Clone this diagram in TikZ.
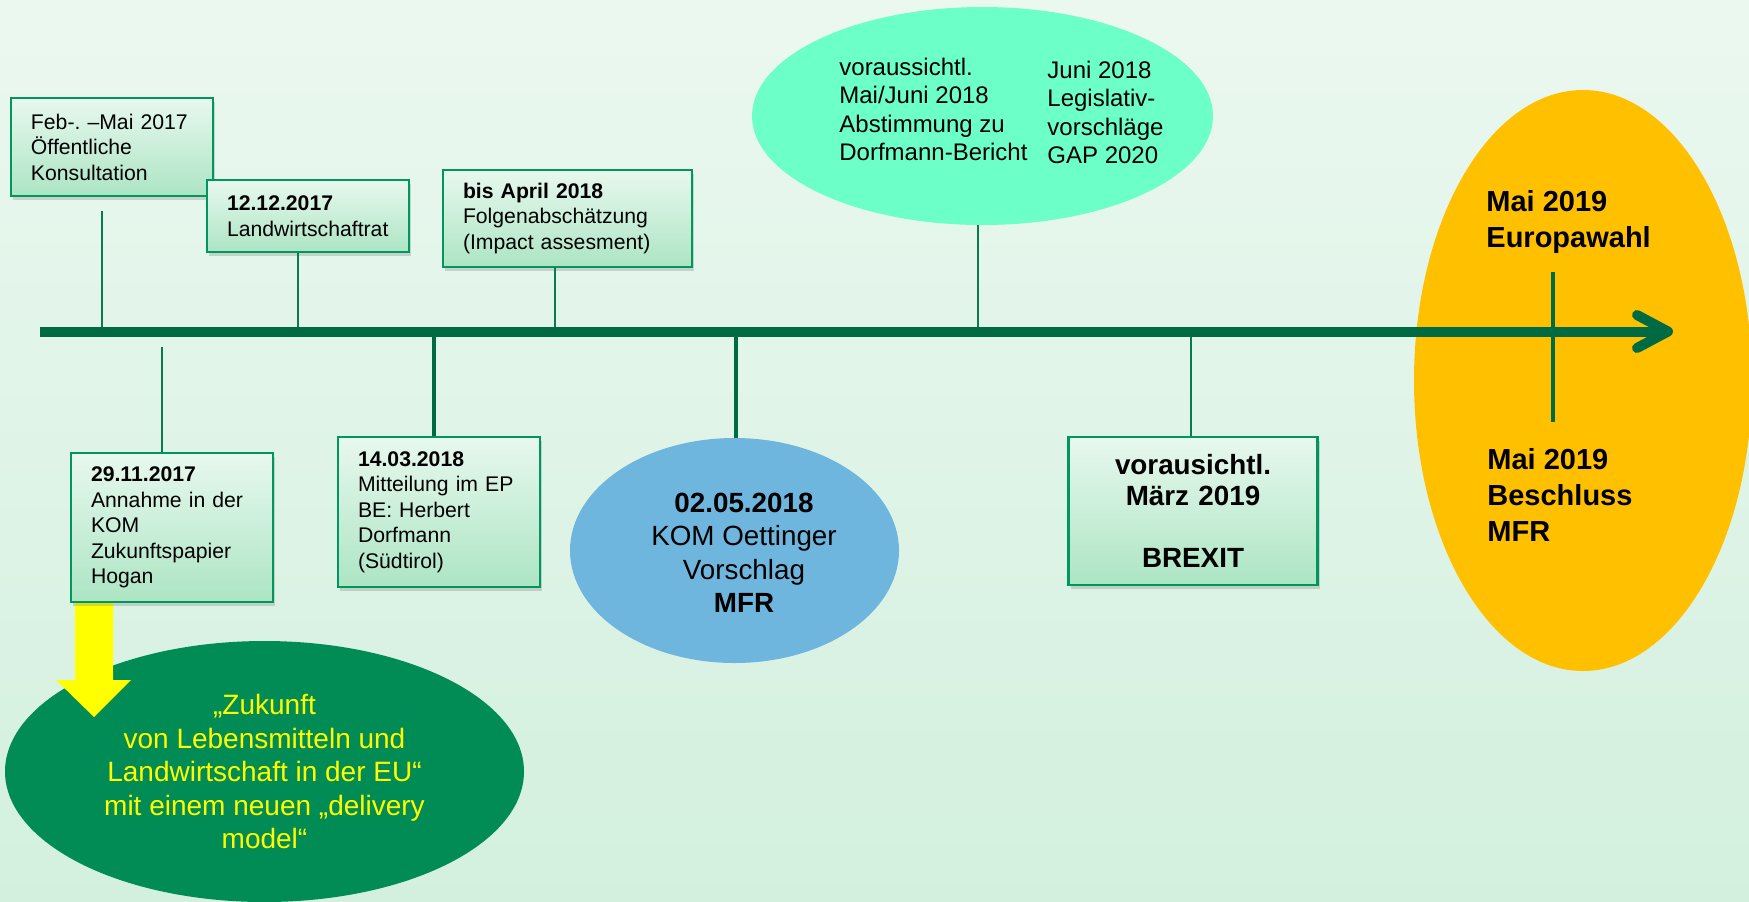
\documentclass[tikz,border=0pt]{standalone}
\usepackage{fontspec}
\setmainfont{Liberation Sans}
\usetikzlibrary{shapes.geometric,shadows}
\frenchspacing

\definecolor{axisgreen}{RGB}{0,106,66}
\definecolor{tickgreen}{RGB}{12,122,80}
\definecolor{boxline}{RGB}{0,150,95}
\definecolor{boxtop}{RGB}{232,248,238}
\definecolor{boxbot}{RGB}{172,229,196}
\definecolor{bgtop}{RGB}{235,248,240}
\definecolor{bgbot}{RGB}{211,240,222}
\definecolor{gapcyan}{RGB}{108,255,200}
\definecolor{mfrblue}{RGB}{110,182,222}
\definecolor{wahlorange}{RGB}{255,192,0}
\definecolor{zukunftgreen}{RGB}{0,140,84}
\definecolor{arrowyellow}{RGB}{255,255,0}

\begin{document}
\begin{tikzpicture}[
  x=0.5pt,
  y=-0.5pt,
  event/.style={draw=boxline, line width=1.25pt, top color=boxtop, bottom color=boxbot, align=left, inner xsep=10pt, inner ysep=0pt, text width=81pt, font=\fontsize{10.6}{12.75}\selectfont, drop shadow={shadow xshift=1pt, shadow yshift=-2pt, opacity=0.3}},
  eventwide/.style={event, text width=104.5pt},
  blob/.style={ellipse, inner sep=0pt, align=center},
  tick/.style={draw=tickgreen, line width=1pt},
  tickbold/.style={draw=axisgreen, line width=2.3pt},
  axisline/.style={draw=axisgreen, line width=5pt}
]
\useasboundingbox (0,0) rectangle (1749,901);
\shade[top color=bgtop, bottom color=bgbot] (0,0) rectangle (1749,901);

\node[blob, fill=wahlorange, minimum width=169pt, minimum height=290.5pt] (wahl) at (1583,380.5) {};
\node[font=\fontsize{14.5}{18}\selectfont\bfseries, align=left, anchor=west, inner sep=0pt] (wahlA) at (1486,221.5) {Mai 2019\\Europawahl};
\node[font=\fontsize{14.5}{18}\selectfont\bfseries, align=left, anchor=west, inner sep=0pt] (wahlB) at (1487,495) {Mai 2019\\Beschluss\\MFR};

\node[blob, fill=gapcyan, minimum width=230.5pt, minimum height=109pt] (gap) at (982.5,116) {};
\node[font=\fontsize{12}{14.25}\selectfont, align=left, anchor=west, inner sep=0pt] (gapA) at (839,109.5) {voraussichtl.\\Mai/Juni 2018\\Abstimmung zu\\Dorfmann-Bericht};
\node[font=\fontsize{12}{14.25}\selectfont, align=left, anchor=west, inner sep=0pt] (gapB) at (1047,112.5) {Juni 2018\\Legislativ-\\vorschläge\\GAP 2020};

\node[blob, fill=zukunftgreen, text=arrowyellow, minimum width=259.5pt, minimum height=130.5pt, font=\fontsize{14}{16.75}\selectfont] (zukunft) at (264.5,771.5) {„Zukunft\\von Lebensmitteln und\\Landwirtschaft in der EU“\\mit einem neuen „delivery\\model“};
\fill[arrowyellow] (75,603) -- (113,603) -- (113,680) -- (131,680) -- (94,717) -- (56,680) -- (75,680) -- cycle;

\node[event, minimum height=49pt] (feb) at (112,147) {Feb-. –Mai 2017\\Öffentliche\\Konsultation};
\node[event, minimum height=36pt] (rat) at (308,216) {\textbf{12.12.2017}\\Landwirtschaftrat};
\node[eventwide, minimum height=48.5pt] (folgen) at (567.5,218.5) {\textbf{bis April 2018}\\Folgenabschätzung\\(Impact assesment)};
\node[event, minimum height=74.5pt] (hogan) at (172,527.5) {\textbf{29.11.2017}\\Annahme in der\\KOM\\Zukunftspapier\\Hogan};
\node[event, minimum height=75pt] (dorf) at (439,512) {\textbf{14.03.2018}\\Mitteilung im EP\\BE: Herbert\\Dorfmann\\(Südtirol)};
\node[eventwide, align=center, minimum height=74pt, font=\fontsize{13.9}{15.5}\selectfont\bfseries] (brexit) at (1193,511) {vorausichtl.\\März 2019\\[15.5pt]BREXIT};
\node[blob, fill=mfrblue, minimum width=164.5pt, minimum height=112.5pt] (mfr) at (734.5,550.5) {};
\node[align=center, inner sep=0pt, font=\fontsize{13.9}{16.75}\selectfont] (mfrtext) at (744,553) {\textbf{02.05.2018}\\KOM Oettinger\\Vorschlag\\\textbf{MFR}};

\coordinate (axl) at (40,331.5);
\coordinate (axr) at (1668,331.5);
\coordinate (ax1) at (101.5,331.5);
\coordinate (ax2) at (298,331.5);
\coordinate (ax3) at (554.5,331.5);
\coordinate (ax4) at (162,331.5);
\coordinate (ax5) at (434,331.5);
\coordinate (ax6) at (736,331.5);
\coordinate (ax7) at (978,331.5);
\coordinate (ax8) at (1190.5,331.5);
\coordinate (e1) at (101.5,211);
\coordinate (e4) at (162,347);
\coordinate (e9a) at (1553,272);
\coordinate (e9b) at (1553,422);

\draw[tick] (e1) -- (ax1);
\draw[tick] (rat.south -| ax2) -- (ax2);
\draw[tick] (folgen.south -| ax3) -- (ax3);
\draw[tick] (e4) -- (hogan.north -| ax4);
\draw[tickbold] (ax5) -- (dorf.north -| ax5);
\draw[tickbold] (ax6) -- (mfr.north -| ax6);
\draw[tick] (gap.south -| ax7) -- (ax7);
\draw[tick] (ax8) -- (brexit.north -| ax8);
\draw[tickbold] (e9a) -- (e9b);

\draw[axisline] (axl) -- (axr);
\draw[axisline, line cap=round, line join=round] (axr) ++(-31,-16.5) -- (axr) -- ++(-31,16.5);
\end{tikzpicture}
\end{document}
